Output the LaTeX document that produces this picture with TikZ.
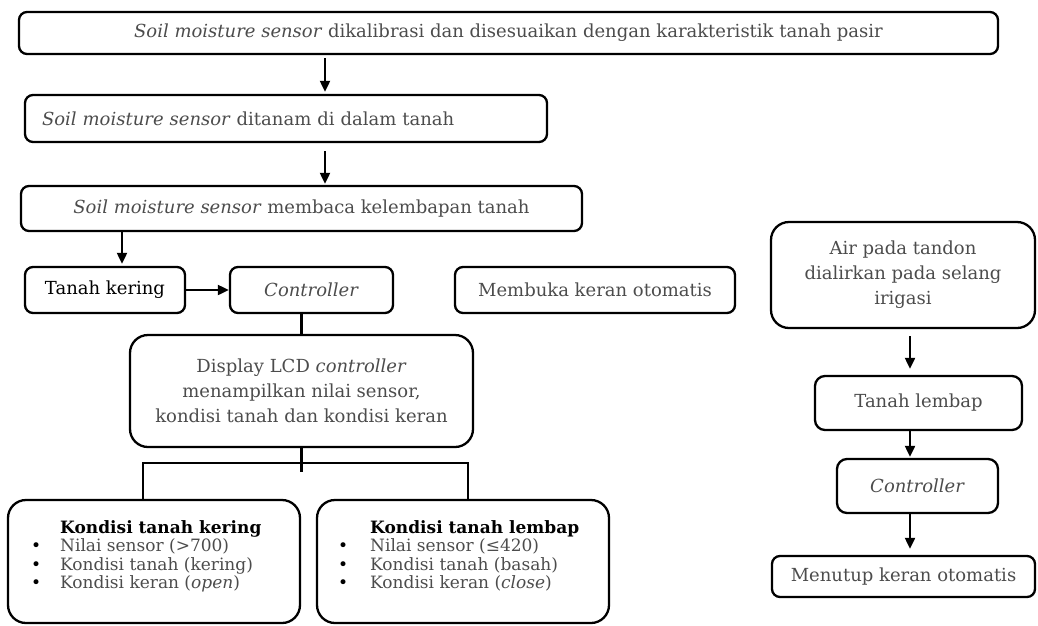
\documentclass[tikz,border=0pt]{standalone}
\usepackage{fontspec}
\setmainfont{DejaVu Serif}
\usetikzlibrary{arrows.meta,calc}
\definecolor{txt}{gray}{0.3}
\newcommand{\blt}{\textcolor{black}{\textbullet}}
\begin{document}
\begin{tikzpicture}[x=1pt,y=-1pt,
  box/.style={draw, line width=2.3pt, rounded corners=8pt, inner sep=0pt, align=center, text=txt, font=\fontsize{18}{25}\selectfont},
  bigbox/.style={box, rounded corners=18pt},
  arr/.style={line width=2pt, -{Triangle[length=11pt,width=10pt]}},
  ln/.style={line width=2.2pt},
  list/.style={anchor=base west, inner sep=0pt, text=txt, font=\fontsize{17}{18.5}\selectfont}
]
\useasboundingbox (0,0) rectangle (1038,625);
% left column
\node[box, minimum width=979pt, minimum height=42pt] (b1) at (508.5,33) {\textit{Soil moisture sensor} dikalibrasi dan disesuaikan dengan karakteristik tanah pasir};
\node[box, minimum height=47pt, text width=488pt, align=left, inner xsep=17pt] (b2) at (286,118.5) {\textit{Soil moisture sensor} ditanam di dalam tanah};
\node[box, minimum width=561pt, minimum height=45pt] (b3) at (301.5,208.5) {\textit{Soil moisture sensor} membaca kelembapan tanah};
\node[box, minimum width=160pt, minimum height=46pt, text=black] (tk) at (105,290) {Tanah kering};
\node[box, minimum width=163pt, minimum height=46pt] (c1) at (311.5,290) {\textit{Controller}};
\node[box, minimum width=280pt, minimum height=46pt] (mb) at (595,290) {Membuka keran otomatis};
\node[bigbox, minimum width=343pt, minimum height=112pt] (disp) at (301.5,391) {Display LCD \textit{controller}\\ menampilkan nilai sensor,\\ kondisi tanah dan kondisi keran};
\node[bigbox, minimum width=292pt, minimum height=123pt] (kk) at (154,561.5) {};
\node[bigbox, minimum width=292pt, minimum height=123pt] (kl) at (463,561.5) {};
\node[list] (kkt) at (31,533) {\begin{tabular}[t]{@{}l@{\hspace{19pt}}l@{}} & \textcolor{black}{\textbf{Kondisi tanah kering}}\\ \blt & Nilai sensor (>700)\\ \blt & Kondisi tanah (kering)\\ \blt & Kondisi keran (\textit{open})\end{tabular}};
\node[list] (klt) at (338,533) {\begin{tabular}[t]{@{}l@{\hspace{22pt}}l@{}} & \textcolor{black}{\textbf{Kondisi tanah lembap}}\\ \blt & Nilai sensor (≤420)\\ \blt & Kondisi tanah (basah)\\ \blt & Kondisi keran (\textit{close})\end{tabular}};
% right column
\node[bigbox, minimum width=264pt, minimum height=106pt] (air) at (903,275) {Air pada tandon\\ dialirkan pada selang\\ irigasi};
\node[box, minimum width=207pt, minimum height=54pt, rounded corners=10pt] (tl) at (918.5,403) {Tanah lembap};
\node[box, minimum width=161pt, minimum height=54pt, rounded corners=10pt] (c2) at (917.5,486) {\textit{Controller}};
\node[box, minimum width=263pt, minimum height=41pt] (mt) at (903.5,576.5) {Menutup keran otomatis};
% connectors
\coordinate (cA) at (325,0);
\coordinate (cB) at (122,0);
\coordinate (cC) at (910,0);
\coordinate (cL) at (143,0);
\coordinate (cR) at (468,0);
\coordinate (sp) at (301.5,463);
\draw[arr, shorten <=3pt, shorten >=2pt] (b1.south -| cA) -- (b2.north -| cA);
\draw[arr, shorten <=8pt, shorten >=1pt] (b2.south -| cA) -- (b3.north -| cA);
\draw[arr, shorten >=2pt] (b3.south -| cB) -- (tk.north -| cB);
\draw[arr] (tk.east) -- (c1.west);
\draw[ln] (c1.south -| disp.north) -- (disp.north);
\draw[ln] (disp.south) -- ($(sp)+(0,9)$);
\draw[ln] (kk.north -| cL) -- (cL |- sp) -- (cR |- sp) -- (kl.north -| cR);
\draw[arr, shorten <=7pt, shorten >=6pt] (air.south -| cC) -- (tl.north -| cC);
\draw[arr, shorten >=1pt] (tl.south -| cC) -- (c2.north -| cC);
\draw[arr, shorten >=6pt] (c2.south -| cC) -- (mt.north -| cC);
\end{tikzpicture}
\end{document}
